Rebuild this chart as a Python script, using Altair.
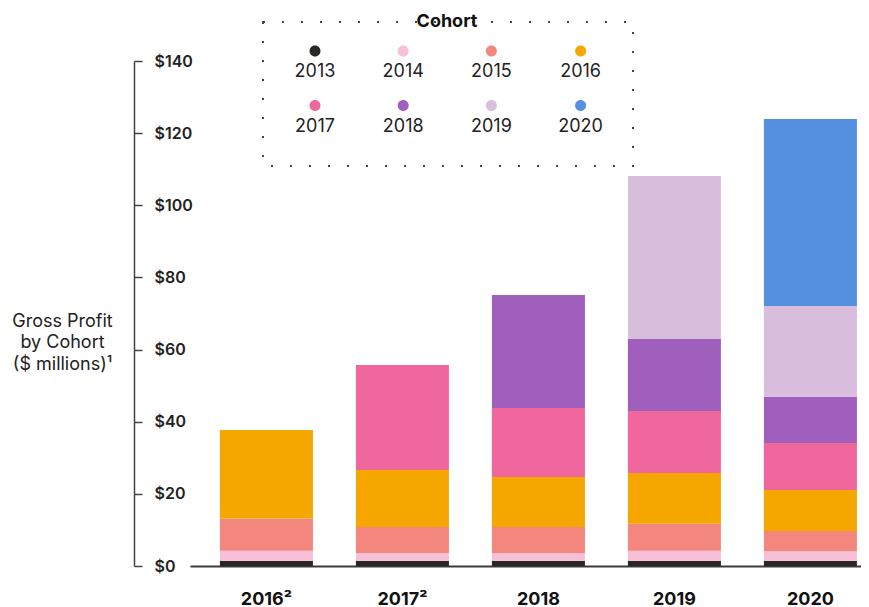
import altair as alt
import pandas as pd

# ---- data ----
years = ["2016²", "2017²", "2018", "2019", "2020"]
cohorts = ["2013", "2014", "2015", "2016", "2017", "2018", "2019", "2020"]
colors = ["#2a2824", "#f7bfd8", "#f4877d", "#f5a700", "#ef679d", "#a05fbd", "#d8bddc", "#5590e0"]

c2013 = [1.4, 1.4, 1.4, 1.4, 1.4]
c2014 = [2.8, 2.2, 2.2, 2.8, 2.7]
c2015 = [9.0, 7.2, 7.2, 7.5, 5.6]
c2016 = [24.5, 15.8, 13.9, 14.1, 11.4]
c2017 = [None, 29.1, 19.1, 17.2, 13.0]
c2018 = [None, None, 31.3, 19.9, 12.8]
c2019 = [None, None, None, 45.2, 25.2]
c2020 = [None, None, None, None, 51.8]

series = [c2013, c2014, c2015, c2016, c2017, c2018, c2019, c2020]
y_ticks = [0, 20, 40, 60, 80, 100, 120, 140]

rows = []
for ci, (coh, vals) in enumerate(zip(cohorts, series)):
    for yr, v in zip(years, vals):
        if v is not None:
            rows.append({"year": yr, "cohort": coh, "idx": ci, "value": v})
df = pd.DataFrame(rows)

FONT = "Inter"
W, H = 671, 505
# legend dot: small circle inside the symbol box, nudged so it sits centred above its label
dot_path = "M0.5,-1.0909A0.5,0.5,0,1,0,1.5,-1.0909A0.5,0.5,0,1,0,0.5,-1.0909Z"

chart = (
    alt.Chart(df)
    .mark_bar()
    .encode(
        x=alt.X(
            "year:N",
            sort=years,
            scale=alt.Scale(paddingInner=0.316, paddingOuter=0.125, align=0.88),
            axis=alt.Axis(
                title=None, labelAngle=0, ticks=False, domainColor="#3a3a3a",
                domainWidth=2, labelFontSize=18, labelFontWeight="bold",
                labelPadding=24, labelColor="#111", labelFont=FONT,
            ),
        ),
        y=alt.Y(
            "value:Q",
            stack="zero",
            scale=alt.Scale(domain=[0, 140], nice=False),
            axis=alt.Axis(
                orient="right", offset=-(W + 56), values=y_ticks,
                labelExpr="'$' + datum.value", grid=False,
                tickSize=8, tickWidth=1.5, tickColor="#444",
                domainColor="#444", domainWidth=1.5,
                labelPadding=12, labelFontSize=16, labelFontWeight=600,
                labelColor="#222", labelFont=FONT,
                title=["Gross Profit", "by Cohort", "($ millions)¹"],
                titleAngle=0, titleX=-72, titleY=260, titleAlign="center",
                titleBaseline="middle", titleFontWeight="normal",
                titleFontSize=18, titleLineHeight=21.5, titleColor="#222",
                titleFont=FONT,
            ),
        ),
        color=alt.Color(
            "cohort:N",
            scale=alt.Scale(domain=cohorts, range=colors),
            legend=alt.Legend(
                orient="none", legendX=73, legendY=-39, columns=4,
                direction="horizontal",
                title=None, symbolType=dot_path, symbolSize=484,
                symbolStrokeWidth=0, symbolOffset=0,
                labelAlign="center", labelBaseline="top",
                labelOffset=0, labelFontSize=18, labelFont=FONT,
                labelColor="#222",
                padding=30, rowPadding=18.5, columnPadding=45.2,
                strokeColor="#444",
            ),
        ),
        order=alt.Order("idx:Q", sort="ascending"),
    )
    .properties(
        width=W,
        height=H,
        autosize=alt.AutoSizeParams(type="none"),
        padding={"left": 182, "top": 53, "right": 0, "bottom": 48},
        title=alt.TitleParams(
            text="Cohort", anchor="start", align="center", frame="group",
            dx=257, dy=10, offset=0, fontSize=18, fontWeight="bold",
            font=FONT, color="#111",
        ),
    )
    .configure_view(stroke=None)
    .configure_legend(strokeDash=[2, 17], strokeWidth=2)
)

chart.save("out.html", embed_options={"renderer": "svg", "actions": False})
